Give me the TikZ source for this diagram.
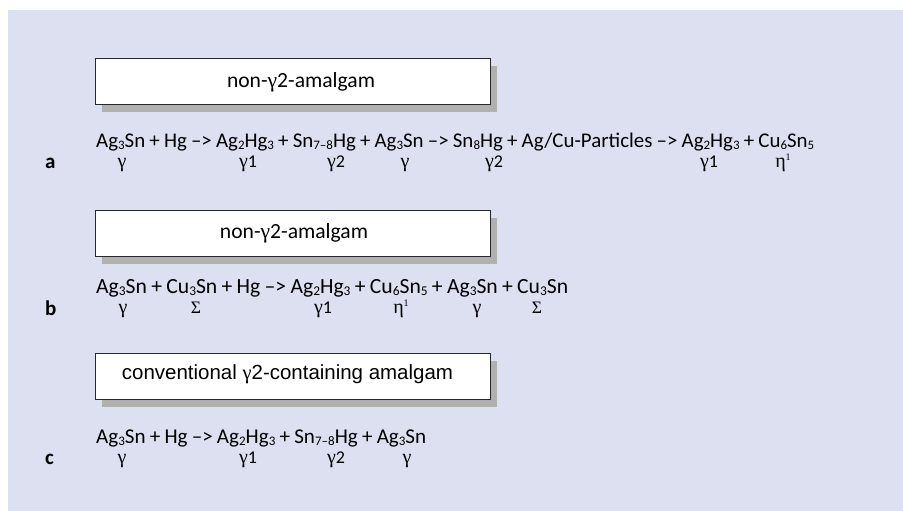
\documentclass[tikz,border=0pt]{standalone}
\usepackage{fontspec}
\setmainfont{Carlito}
\newfontfamily\grkfont{Liberation Serif}
\newfontfamily\helfont{Liberation Sans}
\usetikzlibrary{shadows}
\definecolor{bgcol}{RGB}{221,224,241}
\definecolor{shadecol}{RGB}{176,176,176}
\definecolor{framecol}{RGB}{40,40,40}
\newcommand\dn[1]{\raisebox{-0.12em}{\scalebox{0.62}{#1}}}
\newcommand\gk[1]{{\grkfont\fontsize{20}{21}\selectfont #1}}
\newcommand\gkS[1]{{\grkfont\fontsize{17.5}{20}\selectfont #1}}
\newcommand\etaone{{\grkfont\fontsize{20}{21}\selectfont η\raisebox{0.32em}{\scalebox{0.5}{1}}}}
\newcommand\frmA{Ag\dn{3}Sn + Hg –> Ag\dn{2}Hg\dn{3} + Sn\dn{7–8}Hg + Ag\dn{3}Sn –> Sn\dn{8}Hg + Ag/Cu-Particles –> Ag\dn{2}Hg\dn{3} + Cu\dn{6}Sn\dn{5}}
\newcommand\frmB{Ag\dn{3}Sn + Cu\dn{3}Sn + Hg –> Ag\dn{2}Hg\dn{3} + Cu\dn{6}Sn\dn{5} + Ag\dn{3}Sn + Cu\dn{3}Sn}
\newcommand\frmC{Ag\dn{3}Sn + Hg –> Ag\dn{2}Hg\dn{3} + Sn\dn{7–8}Hg + Ag\dn{3}Sn}
\newcommand\frmfont{\fontsize{20}{22}\selectfont\spaceskip=0.2em plus 0.05em}
\begin{document}
\begin{tikzpicture}[x=1pt,y=-1pt,
  formula/.style={anchor=base west, inner sep=0pt},
  greek/.style={anchor=base, inner sep=0pt, font=\fontsize{18}{20}\selectfont},
  lbl/.style={anchor=base west, inner sep=0pt, font=\fontsize{21}{22}\selectfont\bfseries},
  titlebox/.style={draw=framecol, line width=1.3pt, fill=white, minimum width=395pt,
    minimum height=46pt, inner sep=0pt, anchor=north west,
    drop shadow={shadow xshift=6pt, shadow yshift=-7pt, fill=shadecol, opacity=1}},
  boxtext/.style={anchor=base, inner sep=0pt, font=\fontsize{19}{21}\selectfont}]
\useasboundingbox (0,0) rectangle (903,511);
\fill[bgcol] (8,10) rectangle (903,511);

% boxes
\node[titlebox] (boxA) at (95,58) {};
\node[titlebox] (boxB) at (95,210) {};
\node[titlebox] (boxC) at (95,353) {};
\node[boxtext] (tA) at (301,87.5) {\resizebox{148pt}{!}{non-{\grkfont γ}2-amalgam}};
\node[boxtext] (tB) at (294,238.5) {\resizebox{148pt}{!}{non-{\grkfont γ}2-amalgam}};
\node[boxtext] (tC) at (287.5,379) {\resizebox{331pt}{!}{\helfont conventional {\grkfont γ}2-containing amalgam}};

% formulas
\node[formula] (fA) at (96,147) {\resizebox{718pt}{!}{\frmfont\frmA}};
\node[formula] (fB) at (96,293) {\resizebox{472pt}{!}{\frmfont\frmB}};
\node[formula] (fC) at (96,443) {\resizebox{330pt}{!}{\frmfont\frmC}};

% labels
\node[lbl] (la) at (45,168) {a};
\node[lbl] (lb) at (45,315) {b};
\node[lbl] (lc) at (45,464) {c};

% greek row a
\node[greek] (ga1) at (122,167) {\gk{γ}};
\node[greek] (ga2) at (248,167) {\gk{γ}1};
\node[greek] (ga3) at (336,167) {\gk{γ}2};
\node[greek] (ga4) at (405,167) {\gk{γ}};
\node[greek] (ga5) at (494,167) {\gk{γ}2};
\node[greek] (ga6) at (709,167) {\gk{γ}1};
\node[greek] (ga7) at (783,167) {\etaone};

% greek row b
\node[greek] (gb1) at (123,313) {\gk{γ}};
\node[greek] (gb2) at (196,313) {\gkS{Σ}};
\node[greek] (gb3) at (323,313) {\gk{γ}1};
\node[greek] (gb4) at (401,313) {\etaone};
\node[greek] (gb5) at (477,313) {\gk{γ}};
\node[greek] (gb6) at (537,313) {\gkS{Σ}};

% greek row c
\node[greek] (gc1) at (122,463) {\gk{γ}};
\node[greek] (gc2) at (248,463) {\gk{γ}1};
\node[greek] (gc3) at (336,463) {\gk{γ}2};
\node[greek] (gc4) at (407,463) {\gk{γ}};
\end{tikzpicture}
\end{document}
